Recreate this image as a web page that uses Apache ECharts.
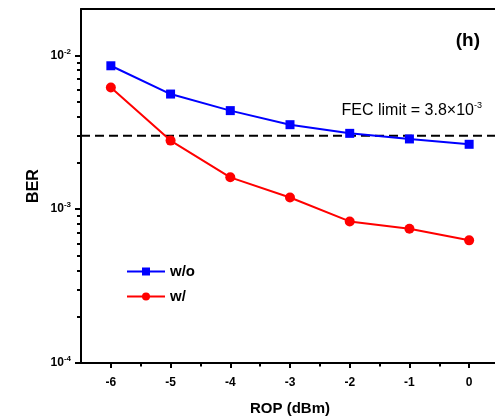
<!DOCTYPE html>
<html>
<head>
<meta charset="utf-8">
<script src="https://cdn.jsdelivr.net/npm/echarts@6/dist/echarts.min.js"></script>
<style>html,body{margin:0;padding:0;background:#fff;overflow:hidden}#c{width:495px;height:416px}</style>
</head>
<body>
<div id="c"></div>
<script>
var rop = [-6, -5, -4, -3, -2, -1, 0];
var berWithout = [8.55e-3, 5.60e-3, 4.37e-3, 3.54e-3, 3.11e-3, 2.86e-3, 2.64e-3];
var berWith = [6.18e-3, 2.79e-3, 1.61e-3, 1.19e-3, 8.32e-4, 7.46e-4, 6.27e-4];
var fecRange = [-6.5, 0.5];
var fecLine = 3.0e-3;
var xTicks = [-6, -5, -4, -3, -2, -1, 0];
var xMinorTicks = [-5.5, -4.5, -3.5, -2.5, -1.5, -0.5, 0.5];
var yTicks = [1e-4, 1e-3, 1e-2];
var yMinorTicks = [2e-4,3e-4,4e-4,5e-4,6e-4,7e-4,8e-4,9e-4,2e-3,3e-3,4e-3,5e-3,6e-3,7e-3,8e-3,9e-3];

var FONT = '"Liberation Sans", Arial, sans-serif';
function pairs(xs, ys){ return xs.map(function(x,i){ return [x, ys[i]]; }); }

var chart = echarts.init(document.getElementById('c'));
chart.setOption({
  animation: false,
  backgroundColor: '#fff',
  textStyle: { fontFamily: FONT },
  grid: { left: 81, top: 9, right: -4, bottom: 53, outerBoundsMode: 'none', containLabel: false, show: false },
  xAxis: [{
    type: 'value', min: -6.5, max: 0.5, position: 'bottom',
    name: 'ROP (dBm)', nameLocation: 'middle', nameGap: 38,
    nameTextStyle: { fontWeight: 'bold', fontSize: 15, color: '#000', fontFamily: FONT },
    axisLine: { onZero: false, lineStyle: { color: '#000', width: 2 } },
    axisTick: { customValues: xTicks, length: 5, lineStyle: { color: '#000', width: 2 } },
    axisLabel: { customValues: xTicks, fontWeight: 'bold', fontSize: 12, color: '#000', margin: 14, fontFamily: FONT },
    splitLine: { show: false }
  }, {
    type: 'value', min: -6.5, max: 0.5, position: 'bottom',
    axisLine: { show: false, onZero: false },
    axisTick: { customValues: xMinorTicks, length: 3.5, lineStyle: { color: '#000', width: 2 } },
    axisLabel: { show: false },
    splitLine: { show: false }
  }, {
    type: 'value', min: -6.5, max: 0.5, position: 'top',
    axisLine: { show: true, onZero: false, lineStyle: { color: '#000', width: 2 } },
    axisTick: { show: false },
    axisLabel: { show: false },
    splitLine: { show: false }
  }],
  yAxis: [{
    type: 'log', logBase: 10, min: 1e-4, max: 0.02, position: 'left',
    name: 'BER', nameLocation: 'middle', nameGap: 39, nameMoveOverlap: false,
    nameTextStyle: { fontWeight: 'bold', fontSize: 16, color: '#000', fontFamily: FONT },
    axisLine: { onZero: false, lineStyle: { color: '#000', width: 2 } },
    axisTick: { customValues: yTicks, length: 6, lineStyle: { color: '#000', width: 2 } },
    axisLabel: {
      customValues: yTicks, margin: 10, color: '#000',
      formatter: function(v){ return '{b|10}{s|' + Math.round(Math.log10(v)) + '}'; },
      rich: {
        b: { fontWeight: 'bold', fontSize: 12, color: '#000', fontFamily: FONT },
        s: { fontWeight: 'bold', fontSize: 8, color: '#000', fontFamily: FONT, verticalAlign: 'top', padding: [0,0,8,0] }
      }
    },
    splitLine: { show: false }
  }, {
    type: 'log', logBase: 10, min: 1e-4, max: 0.02, position: 'left',
    axisLine: { show: false, onZero: false },
    axisTick: { customValues: yMinorTicks, length: 4, lineStyle: { color: '#000', width: 2 } },
    axisLabel: { show: false },
    splitLine: { show: false }
  }],
  legend: {
    orient: 'vertical', left: 121, top: 259, itemWidth: 38, itemHeight: 10, itemGap: 10,
    data: ['w/o', 'w/'],
    textStyle: { fontWeight: 'bold', fontSize: 15, color: '#000', fontFamily: FONT }
  },
  graphic: [{
    type: 'text', right: 15, top: 31,
    style: { text: '(h)', font: 'bold 19px "Liberation Sans", Arial, sans-serif', fill: '#000' }
  }, {
    type: 'text', right: 13, top: 101,
    style: {
      text: '{a|FEC limit = 3.8×10}{s|-3}',
      rich: {
        a: { fontSize: 16, fill: '#000', fontFamily: FONT },
        s: { fontSize: 9, fill: '#000', fontFamily: FONT, verticalAlign: 'top', padding: [0,0,10,0] }
      }
    }
  }],
  series: [{
    name: 'FEC', type: 'line', data: fecRange.map(function(x){ return [x, fecLine]; }),
    symbol: 'none', silent: true, z: 1,
    lineStyle: { color: '#000', type: [9, 5], width: 2 }
  }, {
    name: 'w/o', type: 'line', data: pairs(rop, berWithout),
    symbol: 'rect', symbolSize: 9, z: 3,
    lineStyle: { color: '#0000ff', width: 2 }, itemStyle: { color: '#0000ff' }
  }, {
    name: 'w/', type: 'line', data: pairs(rop, berWith),
    symbol: 'circle', symbolSize: 10, z: 3,
    lineStyle: { color: '#ff0000', width: 2 }, itemStyle: { color: '#ff0000' }
  }]
});
</script>
</body>
</html>
